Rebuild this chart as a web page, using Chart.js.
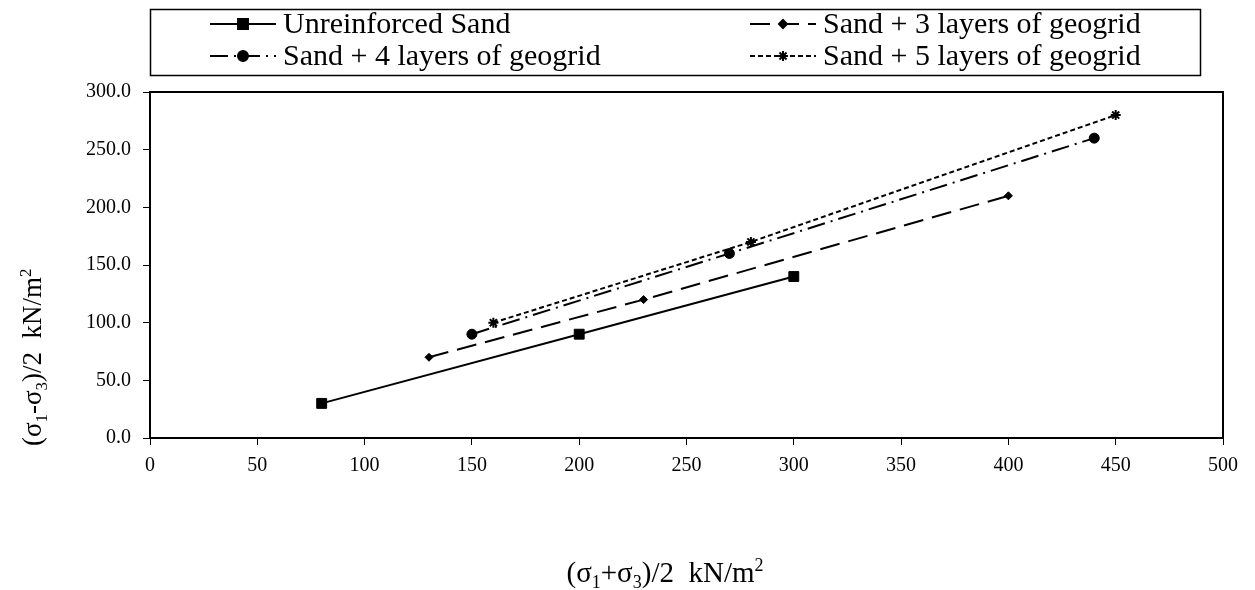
<!DOCTYPE html>
<html>
<head>
<meta charset="utf-8">
<script src="https://cdn.jsdelivr.net/npm/chart.js@4/dist/chart.umd.min.js"></script>
<style>
  html, body { margin: 0; padding: 0; background: #fff; }
  #wrap { width: 1255px; height: 590px; position: relative; }
</style>
</head>
<body>
<div id="wrap"><canvas id="chart"></canvas></div>
<script>
// --- data ---
const seriesNames = [
    "Unreinforced Sand",
    "Sand + 3 layers of geogrid",
    "Sand + 4 layers of geogrid",
    "Sand + 5 layers of geogrid"
];
const unreinforcedX = [80, 200, 300];
const unreinforcedY = [30, 90, 140];
const layers3X = [130, 230, 400];
const layers3Y = [70, 120, 210];
const layers4X = [150, 270, 440];
const layers4Y = [90, 160, 260];
const layers5X = [160, 280, 450];
const layers5Y = [100, 170, 280];

// axis titles as [text, 'n' normal | 'sub' | 'sup'] pieces
const xTitleParts = [["(σ", "n"], ["1", "sub"], ["+σ", "n"], ["3", "sub"], [")/2  kN/m", "n"], ["2", "sup"]];
const yTitleParts = [["(σ", "n"], ["1", "sub"], ["-σ", "n"], ["3", "sub"], [")/2  kN/m", "n"], ["2", "sup"]];

const FONT = "'Liberation Serif', 'Times New Roman', serif";

function pts(xs, ys) {
    return xs.map((x, i) => ({ x: x, y: ys[i] }));
}

const styles = [
    { dash: [], point: 'rect', radius: 7 },
    { dash: [20, 9], point: 'rectRot', radius: 4 },
    { dash: [18, 6, 2, 6], point: 'circle', radius: 5 },
    { dash: [5, 3], point: 'star', radius: 5 }
];

const allData = [
    pts(unreinforcedX, unreinforcedY),
    pts(layers3X, layers3Y),
    pts(layers4X, layers4Y),
    pts(layers5X, layers5Y)
];

const datasets = seriesNames.map((name, i) => ({
    label: name,
    data: allData[i],
    borderColor: '#000',
    backgroundColor: '#000',
    borderWidth: 2,
    borderDash: styles[i].dash,
    pointStyle: styles[i].point,
    pointRadius: styles[i].radius,
    pointBorderWidth: styles[i].point === 'star' ? 2 : 1,
    showLine: true,
    tension: 0
}));

// draws text pieces with sub/superscripts starting at (0,0), baseline at 0
function drawRich(ctx, parts, size) {
    let x = 0;
    parts.forEach(([t, kind]) => {
        const s = kind === 'n' ? size : Math.round(size * 0.62);
        ctx.font = s + "px " + FONT;
        const dy = kind === 'sub' ? size * 0.22 : kind === 'sup' ? -size * 0.38 : 0;
        ctx.fillText(t, x, dy);
        x += ctx.measureText(t).width;
    });
    return x;
}
function richWidth(ctx, parts, size) {
    let w = 0;
    parts.forEach(([t, kind]) => {
        const s = kind === 'n' ? size : Math.round(size * 0.62);
        ctx.font = s + "px " + FONT;
        w += ctx.measureText(t).width;
    });
    return w;
}

// frame around the plot area, boxed legend at the top, axis titles
const framePlugin = {
    id: 'frame',
    afterDraw(chart) {
        const ctx = chart.ctx;
        const a = chart.chartArea;
        ctx.save();
        ctx.strokeStyle = '#000';
        ctx.lineWidth = 2;
        ctx.setLineDash([]);
        ctx.strokeRect(a.left, a.top, a.right - a.left, a.bottom - a.top);

        // legend box
        ctx.lineWidth = 1.5;
        ctx.strokeRect(150.5, 9.5, 1050, 66);

        const cols = [210, 750];
        const rows = [24, 56];
        const order = [[0, 0, 0], [1, 1, 0], [2, 0, 1], [3, 1, 1]];
        ctx.fillStyle = '#000';
        ctx.textBaseline = 'middle';
        order.forEach(([di, c, r]) => {
            const ds = chart.data.datasets[di];
            const x0 = cols[c], y0 = rows[r];
            const len = 66;
            ctx.strokeStyle = '#000';
            ctx.lineWidth = 2;
            ctx.setLineDash(ds.borderDash);
            ctx.beginPath();
            ctx.moveTo(x0, y0);
            ctx.lineTo(x0 + len, y0);
            ctx.stroke();
            ctx.setLineDash([]);
            Chart.helpers.drawPoint(ctx, {
                pointStyle: ds.pointStyle,
                radius: ds.pointRadius,
                borderWidth: ds.pointBorderWidth
            }, x0 + len / 2, y0);
            ctx.font = "30px " + FONT;
            ctx.fillText(ds.label, x0 + len + 7, y0 + 1);
        });

        // axis titles
        ctx.textBaseline = 'alphabetic';
        ctx.textAlign = 'left';
        const xw = richWidth(ctx, xTitleParts, 29);
        ctx.save();
        ctx.translate(665 - xw / 2, 582);
        drawRich(ctx, xTitleParts, 29);
        ctx.restore();

        ctx.save();
        ctx.translate(41, 446);
        ctx.rotate(-Math.PI / 2);
        drawRich(ctx, yTitleParts, 27);
        ctx.restore();
        ctx.restore();
    }
};

new Chart(document.getElementById('chart'), {
    type: 'scatter',
    data: { datasets: datasets },
    plugins: [framePlugin],
    options: {
        responsive: true,
        maintainAspectRatio: false,
        animation: false,
        layout: { padding: { top: 92, right: 32, left: 0, bottom: 0 } },
        plugins: { legend: { display: false }, tooltip: { enabled: false } },
        scales: {
            x: {
                type: 'linear',
                min: 0, max: 500,
                ticks: { stepSize: 50, color: '#000', font: { family: FONT, size: 20 }, padding: 9, maxRotation: 0 },
                grid: { drawOnChartArea: false, color: '#000', tickLength: 7, lineWidth: 1 },
                border: { color: '#000', width: 2 },
                afterFit(scale) { scale.height = 152; }
            },
            y: {
                type: 'linear',
                min: 0, max: 300,
                ticks: { stepSize: 50, color: '#000', font: { family: FONT, size: 20 }, padding: 12,
                         callback: v => v.toFixed(1) },
                grid: { drawOnChartArea: false, color: '#000', tickLength: 7, lineWidth: 1 },
                border: { color: '#000', width: 2 },
                afterFit(scale) { scale.width = 150; }
            }
        }
    }
});
</script>
</body>
</html>
